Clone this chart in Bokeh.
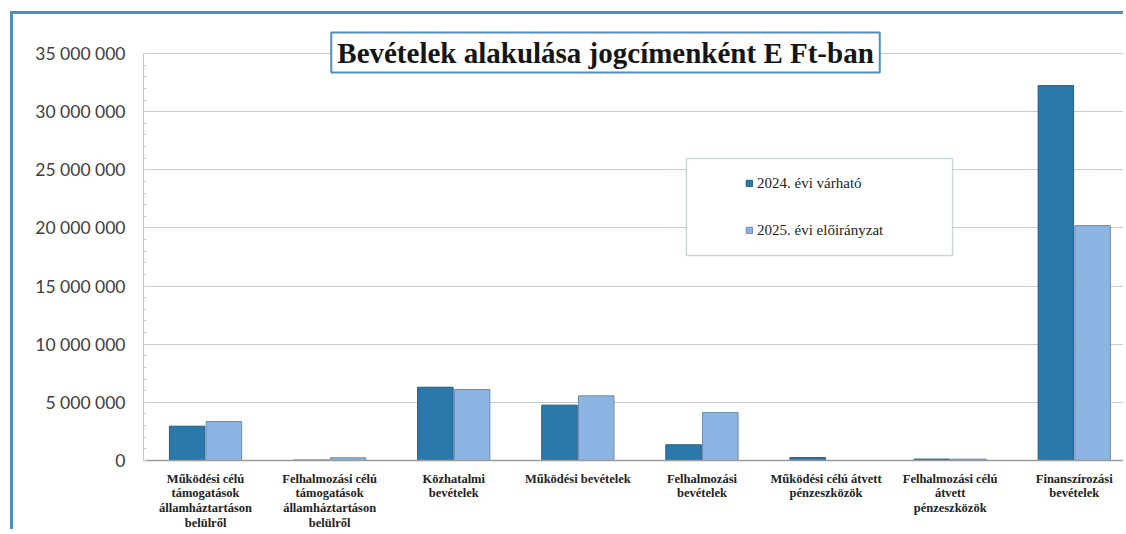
from bokeh.plotting import figure
from bokeh.models import (Range1d, FixedTicker, CustomJSTickFormatter, Legend, LegendItem,
                          Label, BoxAnnotation, ColumnDataSource)
from bokeh.transform import dodge
from bokeh.embed import file_html
from bokeh.resources import INLINE

categories = [
    "Működési célú\ntámogatások\nállamháztartáson\nbelülről",
    "Felhalmozási célú\ntámogatások\nállamháztartáson\nbelülről",
    "Közhatalmi\nbevételek",
    "Működési bevételek",
    "Felhalmozási\nbevételek",
    "Működési célú átvett\npénzeszközök",
    "Felhalmozási célú\nátvett\npénzeszközök",
    "Finanszírozási\nbevételek",
]
series_2024 = [2950000, 40000, 6300000, 4760000, 1350000, 250000, 120000, 32240000]
series_2025 = [3350000, 230000, 6100000, 5560000, 4130000, 0, 120000, 20200000]
series_names = ["2024. évi várható", "2025. évi előirányzat"]
y_ticks = [0, 5000000, 10000000, 15000000, 20000000, 25000000, 30000000, 35000000]
title_text = "Bevételek alakulása jogcímenként E Ft-ban"

idx = list(range(len(categories)))
src = ColumnDataSource(dict(x=idx, v24=series_2024, v25=series_2025))

DARK = "#2a79aa"
LIGHT = "#8db5e3"
FRAME_BLUE = "#4f8fbf"

p = figure(width=1113, height=518, output_backend="svg", toolbar_location=None,
           x_range=Range1d(-0.5, 7.421), y_range=Range1d(0, 37408000),
           min_border_left=130, min_border_right=0, min_border_top=11, min_border_bottom=72)
p.outline_line_color = None
p.background_fill_color = "white"
p.border_fill_color = "white"
p.styles = {"border-left": "3px solid " + FRAME_BLUE, "border-top": "3px solid " + FRAME_BLUE,
            "margin-left": "10px", "margin-top": "11px"}

r1 = p.vbar(x=dodge("x", -0.148, range=p.x_range), top="v24", width=0.286, source=src,
            fill_color=DARK, line_color="#1f5c80", line_width=1)
r2 = p.vbar(x=dodge("x", 0.148, range=p.x_range), top="v25", width=0.286, source=src,
            fill_color=LIGHT, line_color="#6a88b0", line_width=1)

# x axis
p.xaxis.ticker = FixedTicker(ticks=idx)
p.xaxis.major_label_overrides = {i: c for i, c in zip(idx, categories)}
p.xaxis.major_label_text_font = "Liberation Serif"
p.xaxis.major_label_text_font_style = "bold"
p.xaxis.major_label_text_font_size = "12.5px"
p.xaxis.major_label_text_color = "#222222"
p.xaxis.major_label_text_line_height = 1.05
p.xaxis.major_label_standoff = 5
p.xaxis.major_tick_line_color = None
p.xaxis.minor_tick_line_color = None
p.xaxis.axis_line_color = "#9a9a9a"
p.xaxis.axis_line_width = 1.5
p.xgrid.grid_line_color = None

# y axis
p.yaxis.ticker = FixedTicker(ticks=y_ticks, minor_ticks=list(range(0, 35000001, 1000000)))
p.yaxis.bounds = (0, 35000000)
p.yaxis.formatter = CustomJSTickFormatter(
    code="return tick.toFixed(0).replace(/\\B(?=(\\d{3})+(?!\\d))/g, ' ');")
p.yaxis.major_label_text_font = "Lato"
p.yaxis.major_label_text_font_size = "17.5px"
p.yaxis.major_label_text_color = "#404040"
p.yaxis.major_label_standoff = 12
p.yaxis.major_tick_line_color = None
p.yaxis.minor_tick_in = 3
p.yaxis.minor_tick_out = 0
p.yaxis.minor_tick_line_color = "#d0d0d0"
p.yaxis.axis_line_color = "#c8c8c8"
p.ygrid.grid_line_color = "#cccccc"
p.ygrid.grid_line_width = 1

# legend box
box = BoxAnnotation(left=3.875, right=6.019, bottom=17630000, top=25970000,
                    fill_color="white", fill_alpha=1.0,
                    line_color="#4a7f9a", line_width=1.5)
p.add_layout(box)

legend = Legend(items=[LegendItem(label=series_names[0], renderers=[r1]),
                       LegendItem(label=series_names[1], renderers=[r2])],
                location=(602, 208))
legend.border_line_color = None
legend.background_fill_alpha = 0
legend.padding = 0
legend.margin = 0
legend.spacing = 3
legend.label_height = 44
legend.glyph_height = 8
legend.glyph_width = 8
legend.label_standoff = 4
legend.label_text_font = "Liberation Serif"
legend.label_text_font_size = "15px"
legend.label_text_color = "#222222"
legend.label_text_baseline = "middle"
p.add_layout(legend)

# title box
title = Label(x=3.223, y=35086000, text=title_text, text_align="center",
              text_baseline="middle", text_font="Liberation Serif", text_font_style="bold",
              text_font_size="29px", text_color="#151515",
              background_fill_color="white", border_line_color=FRAME_BLUE,
              border_line_width=2, padding=(6, 4))
p.add_layout(title)

open("out.html", "w").write(file_html(p, INLINE))
